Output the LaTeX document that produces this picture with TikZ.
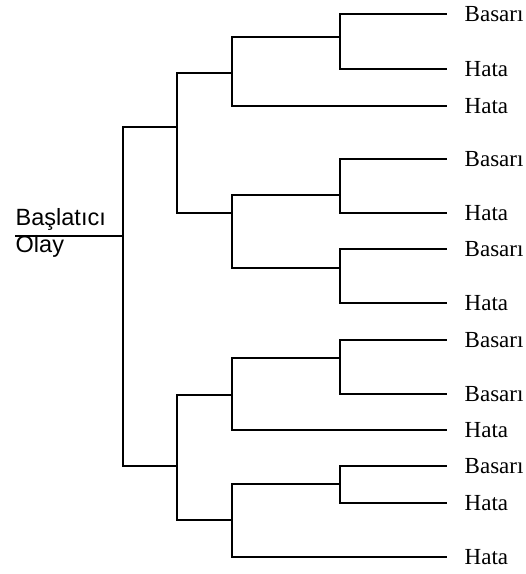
\documentclass[tikz,border=0pt]{standalone}
\usepackage{fontspec}
\setmainfont{Liberation Serif}
\newfontfamily\rootfont{Liberation Sans}
\usetikzlibrary{positioning}

\begin{document}
\begin{tikzpicture}[x=1pt,y=-1pt,line width=1.4pt,
   lf/.style={anchor=west,inner xsep=17pt,inner ysep=0pt,font=\fontsize{23}{27}\selectfont},
   rt/.style={anchor=base west,inner sep=0pt,font=\rootfont\fontsize{23.5}{27}\selectfont}]
  \useasboundingbox (0,0) rectangle (526,574);
  % initiating event
  \node[rt] (bas)  at (15,225) {Başlatıcı};
  \node[rt] (olay) at (15,252) {Olay};
  \coordinate (r0) at (15,236);
  % branch points
  \coordinate (j1)  at (123,236);
  \coordinate (j2a) at (177,127);
  \coordinate (j2b) at (177,466);
  \coordinate (j3a) at (232,73);
  \coordinate (j3b) at (232,213);
  \coordinate (j3c) at (232,395);
  \coordinate (j3d) at (232,520);
  \coordinate (j4a) at (340,37);
  \coordinate (j4b) at (340,195);
  \coordinate (j4c) at (340,268);
  \coordinate (j4d) at (340,358);
  \coordinate (j4e) at (340,484);
  % outcomes
  \foreach \n/\y/\t in {1/14/Basarı,2/69/Hata,3/106/Hata,4/159/Basarı,5/213/Hata,
      6/249/Basarı,7/303/Hata,8/340/Basarı,9/394/Basarı,10/430/Hata,
      11/466/Basarı,12/503/Hata,13/557/Hata}
    \node[lf] (L\n) at (447,\y) {\t};
  \draw (r0) -- (j1);
  \draw (j1) |- (j2a);
  \draw (j1) |- (j2b);
  \draw (j2a) |- (j3a);
  \draw (j2a) |- (j3b);
  \draw (j2b) |- (j3c);
  \draw (j2b) |- (j3d);
  \draw (j3a) |- (j4a);
  \draw (j3a) |- (L3.west);
  \draw (j3b) |- (j4b);
  \draw (j3b) |- (j4c);
  \draw (j3c) |- (j4d);
  \draw (j3c) |- (L10.west);
  \draw (j3d) |- (j4e);
  \draw (j3d) |- (L13.west);
  \draw (j4a) |- (L1.west);
  \draw (j4a) |- (L2.west);
  \draw (j4b) |- (L4.west);
  \draw (j4b) |- (L5.west);
  \draw (j4c) |- (L6.west);
  \draw (j4c) |- (L7.west);
  \draw (j4d) |- (L8.west);
  \draw (j4d) |- (L9.west);
  \draw (j4e) |- (L11.west);
  \draw (j4e) |- (L12.west);
\end{tikzpicture}
\end{document}
